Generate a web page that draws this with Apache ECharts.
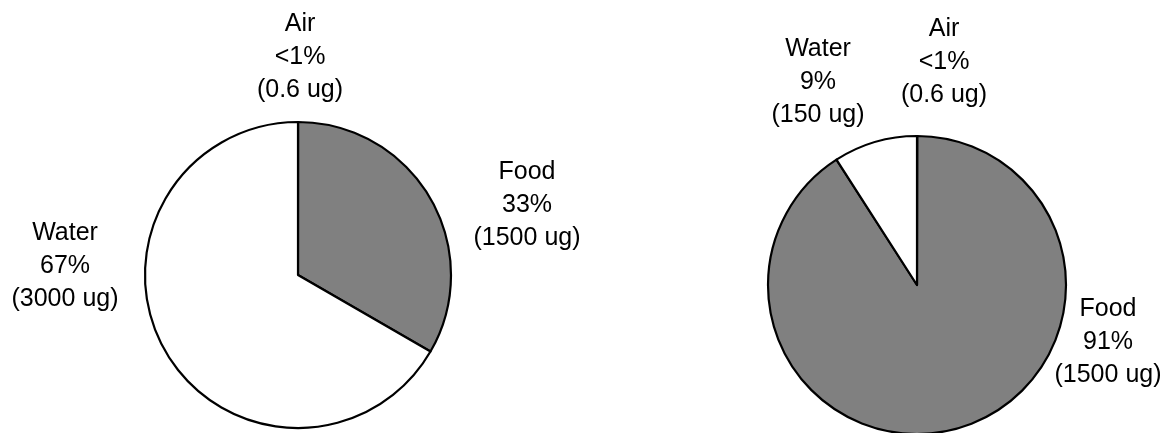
<!DOCTYPE html>
<html>
<head>
<meta charset="utf-8">
<script src="https://cdn.jsdelivr.net/npm/echarts@6/dist/echarts.min.js"></script>
<style>
  html, body { margin: 0; padding: 0; background: #ffffff; }
  #chart { width: 1167px; height: 433px; }
</style>
</head>
<body>
<div id="chart"></div>
<script>
// Daily intake by source, two scenarios (micrograms)
const sources = ['Air', 'Food', 'Water'];
const intakeLeft = [0.6, 1500, 3000];
const intakeRight = [0.6, 1500, 150];
const unit = 'ug';

// Slice fills per source
const sliceColors = { Air: '#ffffff', Food: '#808080', Water: '#ffffff' };

// Label anchor points (centre of each three-line label), per pie
const labelSpotsLeft = { Air: [300, 57], Food: [527, 205], Water: [65, 266] };
const labelSpotsRight = { Air: [944, 62], Food: [1108, 342], Water: [818, 82] };

function buildData(values) {
  return sources.map((name, i) => ({
    name: name,
    value: values[i],
    itemStyle: { color: sliceColors[name] }
  }));
}

function formatLabel(p) {
  const pct = p.percent < 1 ? '<1%' : Math.round(p.percent) + '%';
  return p.name + '\n' + pct + '\n(' + p.value + ' ' + unit + ')';
}

function pieSeries(values, center, radius, spots) {
  return {
    type: 'pie',
    center: center,
    radius: radius,
    startAngle: 90,
    clockwise: true,
    animation: false,
    avoidLabelOverlap: false,
    silent: true,
    data: buildData(values),
    itemStyle: { borderColor: '#000000', borderWidth: 2.2 },
    label: {
      show: true,
      position: 'outside',
      formatter: formatLabel,
      color: '#000000',
      fontFamily: '"Liberation Sans", Arial, sans-serif',
      fontSize: 25,
      lineHeight: 33,
      align: 'center'
    },
    labelLine: { show: false },
    labelLayout: function (params) {
      const name = sources[params.dataIndex];
      const s = spots[name];
      return { x: s[0], y: s[1], align: 'center', verticalAlign: 'middle', hideOverlap: false };
    }
  };
}

const chart = echarts.init(document.getElementById('chart'), null, { renderer: 'canvas' });
chart.setOption({
  backgroundColor: '#ffffff',
  series: [
    pieSeries(intakeLeft, [298, 275], 153, labelSpotsLeft),
    pieSeries(intakeRight, [917, 285], 149, labelSpotsRight)
  ]
});
</script>
</body>
</html>
